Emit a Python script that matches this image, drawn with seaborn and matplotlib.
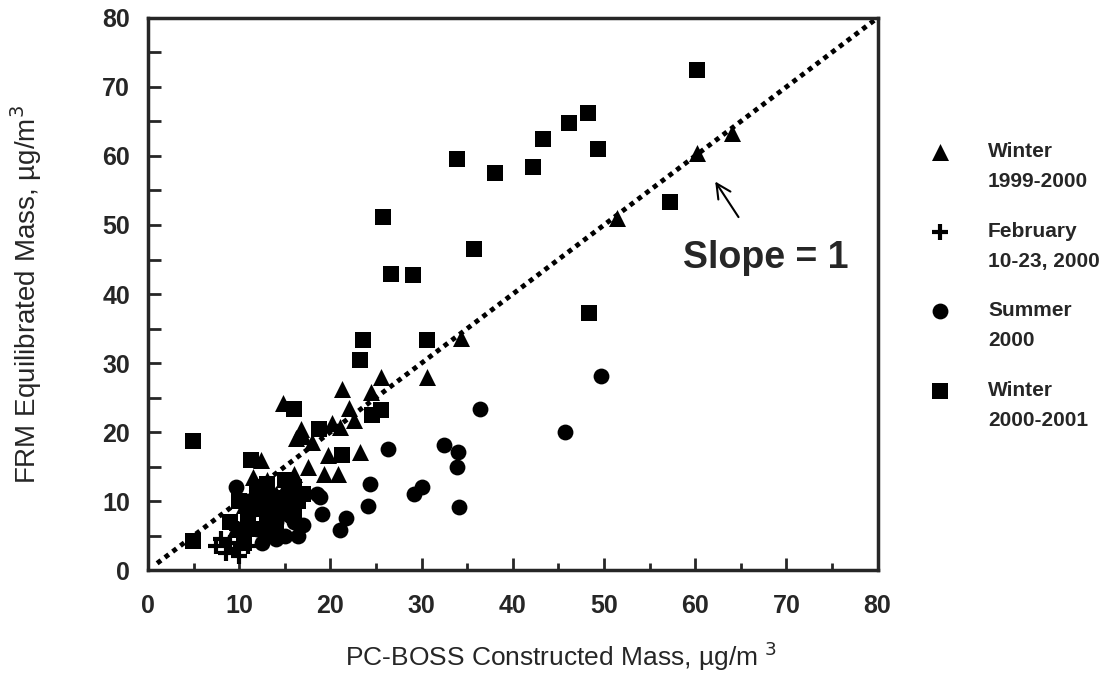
import numpy as np
import pandas as pd
import matplotlib
matplotlib.use("Agg")
import matplotlib.pyplot as plt
import seaborn as sns
from matplotlib.ticker import MultipleLocator

# Winter 1999-2000 (triangles)
w99_x = [14.8, 21.3, 16.8, 20.2, 21.1, 22.6, 19.7, 23.3, 16.2, 19.3, 20.8, 24.4,
         25.5, 30.6, 34.3, 51.4, 60.2, 64.0, 12.4, 12.5, 10.5, 14.0, 15.5, 13.0,
         18.0, 17.0, 9.5, 22.0, 11.5, 17.5, 13.0, 15.0, 16.0, 12.0]
w99_y = [24.2, 26.3, 20.5, 21.3, 20.8, 21.7, 16.7, 17.1, 19.1, 14.0, 14.0, 25.8,
         28.0, 28.0, 33.6, 51.0, 60.4, 63.3, 15.9, 12.0, 9.5, 11.0, 10.5, 7.5,
         18.5, 19.5, 6.0, 23.5, 13.5, 15.0, 13.0, 12.0, 14.0, 9.0]

# February 10-23, 2000 (plus)
feb_x = [7.5, 8.5, 9.0, 9.5, 10.0, 10.5, 8.0, 11.0, 9.8]
feb_y = [3.5, 2.5, 4.0, 3.0, 2.0, 5.0, 4.5, 3.5, 6.0]

# Summer 2000 (circles)
sum_x = [49.7, 36.4, 45.7, 26.3, 32.5, 34.0, 33.9, 24.3, 30.1, 29.2, 24.1, 34.1,
         18.9, 19.1, 21.7, 21.1, 9.6, 11.0, 12.0, 13.0, 14.0, 15.0, 16.0, 17.0,
         13.0, 10.0, 12.0, 15.5, 14.0, 18.5, 11.0, 14.0, 16.5, 12.5]
sum_y = [28.2, 23.3, 20.0, 17.6, 18.1, 17.1, 15.0, 12.5, 12.0, 11.1, 9.3, 9.2,
         10.6, 8.2, 7.5, 5.8, 12.0, 8.0, 6.0, 5.0, 4.5, 5.0, 7.0, 6.5,
         9.0, 6.0, 10.0, 8.0, 7.0, 11.0, 10.0, 5.5, 5.0, 4.0]

# Winter 2000-2001 (squares)
w00_x = [33.9, 38.0, 42.2, 43.3, 46.2, 48.2, 49.3, 25.8, 35.7, 26.7, 29.1, 48.4,
         23.6, 30.6, 60.2, 57.2, 25.5, 23.3, 16.0, 18.8, 24.6, 21.3, 4.9, 4.9,
         11.3, 10.0, 11.0, 12.0, 13.0, 14.0, 15.0, 16.0, 15.5, 16.5, 12.5, 10.5,
         9.0, 14.0, 13.0, 17.0, 12.0, 14.0, 16.0, 11.0, 13.0, 15.0]
w00_y = [59.5, 57.5, 58.4, 62.4, 64.7, 66.2, 61.0, 51.2, 46.5, 42.9, 42.7, 37.3,
         33.3, 33.3, 72.4, 53.4, 23.2, 30.4, 23.3, 20.5, 22.5, 16.7, 4.3, 18.7,
         15.9, 10.0, 8.0, 9.0, 11.0, 7.0, 13.0, 12.0, 9.0, 10.0, 6.0, 4.0,
         7.0, 8.5, 12.5, 11.0, 12.0, 10.0, 8.0, 6.0, 7.5, 10.5]

series = [
    ("Winter\n1999-2000", w99_x, w99_y, "^"),
    ("February\n10-23, 2000", feb_x, feb_y, "+"),
    ("Summer\n2000", sum_x, sum_y, "o"),
    ("Winter\n2000-2001", w00_x, w00_y, "s"),
]

sns.set_style("ticks")
plt.rcParams["font.family"] = ["Liberation Sans", "DejaVu Sans"]

fig = plt.figure(figsize=(11.07, 6.87), dpi=100)
ax = fig.add_axes([0.1337, 0.170, 0.659, 0.804])

# 1:1 line
ax.plot([1, 80], [1, 80], color="black", linestyle=(0, (1, 1)), linewidth=3.5, zorder=1)

sizes = {"^": 150, "+": 130, "o": 130, "s": 130}
for label, xs, ys, mk in series:
    df = pd.DataFrame({"x": xs, "y": ys})
    if mk == "+":
        sns.scatterplot(data=df, x="x", y="y", marker=mk, s=sizes[mk], color="black",
                        linewidth=3, ax=ax, label=label, zorder=3)
    else:
        sns.scatterplot(data=df, x="x", y="y", marker=mk, s=sizes[mk], color="black",
                        edgecolor="black", linewidth=0, ax=ax, label=label, zorder=3)

ax.set_xlim(0, 80)
ax.set_ylim(0, 80)
ax.xaxis.set_major_locator(MultipleLocator(10))
ax.yaxis.set_major_locator(MultipleLocator(10))
ax.xaxis.set_minor_locator(MultipleLocator(5))
ax.yaxis.set_minor_locator(MultipleLocator(5))
ax.tick_params(which="major", direction="in", length=9, width=2, labelsize=18, pad=13)
ax.tick_params(axis="x", which="major", pad=17)
ax.tick_params(which="minor", direction="in", length=5, width=2)
ax.tick_params(axis="y", which="minor", length=9)
for lbl in ax.get_xticklabels() + ax.get_yticklabels():
    lbl.set_fontweight("bold")
for sp in ax.spines.values():
    sp.set_linewidth(2.5)
    sp.set_visible(True)

ax.set_xlabel("PC-BOSS Constructed Mass, µg/m $^3$", fontsize=19)
ax.set_ylabel("FRM Equilibrated Mass, µg/m$^3$", fontsize=20)
ax.xaxis.set_label_coords(0.566, -0.126)
ax.yaxis.set_label_coords(-0.143, 0.5)

ax.annotate("Slope = 1", xy=(62.2, 56.3), xytext=(67.7, 45.2),
            fontsize=27, fontweight="bold", ha="center", va="center",
            arrowprops=dict(arrowstyle="->", color="black", lw=1.5,
                            mutation_scale=26, shrinkA=17, shrinkB=0))

leg = ax.legend(loc="upper left", bbox_to_anchor=(1.06, 0.79), frameon=False,
                fontsize=15, labelspacing=1.45, handletextpad=1.8, handlelength=1.0,
                borderaxespad=0, scatteryoffsets=[1.5])
for t in leg.get_texts():
    t.set_fontweight("bold")
    t.set_linespacing(1.75)

fig.savefig("out.png", dpi=100)
